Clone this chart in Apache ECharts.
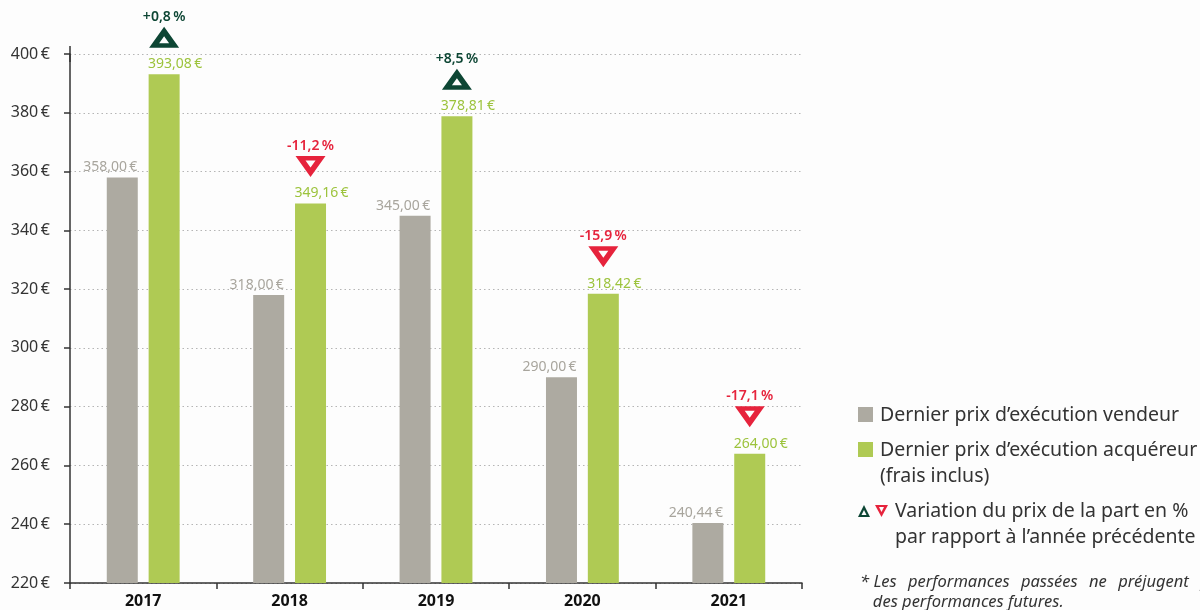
<!DOCTYPE html>
<html><head><meta charset="utf-8">
<script src="https://cdn.jsdelivr.net/npm/echarts@6/dist/echarts.min.js"></script>
<style>html,body{margin:0;padding:0;background:#fdfdfd;}#c{width:1200px;height:610px;}</style>
</head><body><div id="c"></div>
<script>
const categories = ['2017', '2018', '2019', '2020', '2021'];
const vendeur = [358.00, 318.00, 345.00, 290.00, 240.44];
const acquereur = [393.08, 349.16, 378.81, 318.42, 264.00];
const variation = [0.8, -11.2, 8.5, -15.9, -17.1];
const yMin = 220, yMax = 400, yStep = 20;
const seriesNames = ['Dernier prix d’exécution vendeur', 'Dernier prix d’exécution acquéreur (frais inclus)'];

const GREY = '#adaaa1', GREEN = '#afca54', DARK = '#0d4634', RED = '#e6233c';
const FONT = 'Noto Sans';
const UP = 'path://M0,21 L15,0 L30,21 Z M20,16.5 L15,9.5 L10,16.5 Z';
const DOWN = 'path://M0,0 L30,0 L15,21 Z M10,4.5 L15,11.5 L20,4.5 Z';
const euro = v => v.toFixed(2).replace('.', ',') + '\u2009€';
const pct = v => (v > 0 ? '+' : '') + v.toFixed(1).replace('.', ',') + '\u2009%';

const chart = echarts.init(document.getElementById('c'));
chart.setOption({
  backgroundColor: '#fdfdfd',
  animation: false,
  textStyle: { fontFamily: FONT },
  grid: { left: 70, right: 398, top: 54, bottom: 27 },
  xAxis: {
    type: 'category', data: categories,
    axisLine: { lineStyle: { color: '#333', width: 1.5 } },
    axisTick: { show: true, length: 6, lineStyle: { color: '#333', width: 1.5 } },
    axisLabel: { color: '#111', fontSize: 16, fontWeight: 'bold', margin: 10, fontFamily: FONT }
  },
  yAxis: {
    type: 'value', min: yMin, max: yMax, interval: yStep,
    axisLine: { show: true, symbol: ['none', 'rect'], symbolSize: [1.5, 16], lineStyle: { color: '#333', width: 1.5 } },
    axisTick: { show: true, length: 6, lineStyle: { color: '#333', width: 1.5 } },
    axisLabel: { color: '#333', fontSize: 16, margin: 20, fontFamily: FONT, formatter: v => v + '\u2009€' },
    splitLine: { show: true, lineStyle: { color: '#b5b5b5', type: [1.5, 3], width: 1 } }
  },
  series: [
    {
      name: seriesNames[0], type: 'bar', data: vendeur, barWidth: 31, barGap: '35%',
      itemStyle: { color: GREY },
      label: { show: true, position: 'top', distance: 3, offset: [-12, 0], color: '#a8a59d', fontSize: 14, fontFamily: FONT, formatter: p => euro(p.value) }
    },
    {
      name: seriesNames[1], type: 'bar', data: acquereur, barWidth: 31, barGap: '35%',
      itemStyle: { color: GREEN },
      label: { show: true, position: 'top', distance: 3, offset: [11, 0], color: '#9cc33c', fontSize: 14, fontFamily: FONT, formatter: p => euro(p.value) },
      markPoint: {
        symbolSize: [30, 21], symbolOffset: [0, -37],
        data: acquereur.map((v, i) => ({
          coord: [categories[i], v], value: variation[i],
          symbol: variation[i] >= 0 ? UP : DOWN,
          itemStyle: { color: variation[i] >= 0 ? DARK : RED },
          label: { color: variation[i] >= 0 ? DARK : RED }
        })),
        label: { show: true, position: 'top', distance: 3, fontSize: 14, fontWeight: 600, fontFamily: FONT, formatter: p => pct(p.value) }
      }
    }
  ],
  graphic: [
    { type: 'rect', left: 858, top: 407, shape: { width: 15, height: 15 }, style: { fill: GREY } },
    { type: 'text', x: 880, y: 415, style: { text: 'Dernier prix d’exécution vendeur', fill: '#333', font: '19.5px "Noto Sans"', verticalAlign: 'middle' } },
    { type: 'rect', left: 858, top: 442, shape: { width: 15, height: 15 }, style: { fill: GREEN } },
    { type: 'text', x: 880, y: 437, style: { text: 'Dernier prix d’exécution acquéreur\n(frais inclus)', fill: '#333', font: '19.5px "Noto Sans"', lineHeight: 26, verticalAlign: 'top' } },
    { type: 'polygon', shape: { points: [[858, 517], [864, 505], [870, 517]] }, style: { fill: DARK } },
    { type: 'polygon', shape: { points: [[861.5, 515], [864, 510], [866.5, 515]] }, style: { fill: '#fdfdfd' } },
    { type: 'polygon', shape: { points: [[875, 505], [888, 505], [881.5, 517]] }, style: { fill: RED } },
    { type: 'polygon', shape: { points: [[879, 507], [884, 507], [881.5, 512]] }, style: { fill: '#fdfdfd' } },
    { type: 'text', x: 895, y: 498, style: { text: 'Variation du prix de la part en %\npar rapport à l’année précédente', fill: '#333', font: '19.5px "Noto Sans"', lineHeight: 26, verticalAlign: 'top' } },
    { type: 'text', x: 860, y: 572, style: { text: '* Les  \u2009performances  \u2009passées  \u2009ne  \u2009préjugent  \u2009pas\n   des performances futures.', fill: '#333', font: 'italic 16.5px "Noto Sans"', lineHeight: 20, verticalAlign: 'top' } }
  ]
});
</script></body></html>
